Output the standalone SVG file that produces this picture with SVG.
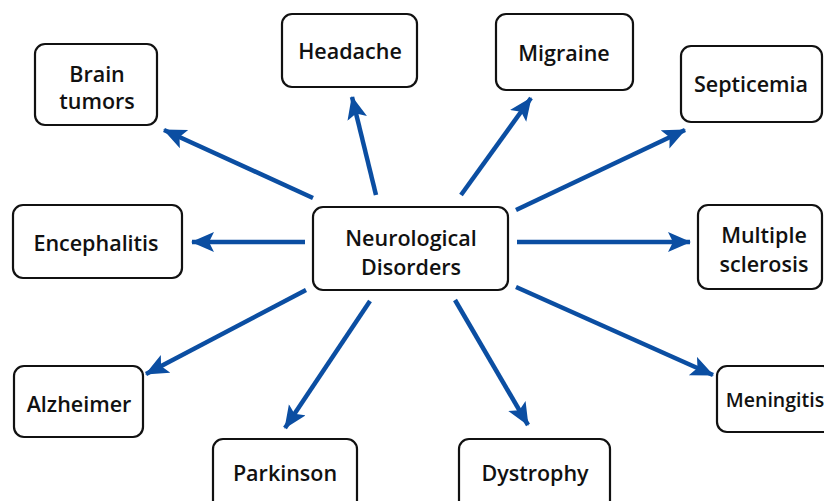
<svg xmlns="http://www.w3.org/2000/svg" width="824" height="501" viewBox="0 0 824 501">
<style>
.box{fill:#fff;stroke:#111;stroke-width:2.2}
.t{font-family:"Open Sans","Noto Sans",sans-serif;font-size:21.5px;font-weight:600;fill:#111;text-anchor:middle;dominant-baseline:central}
.c{stroke:#0b4ea2;stroke-width:4.5;fill:none;marker-end:url(#ah)}
</style>
<defs>
<marker id="ah" markerUnits="userSpaceOnUse" markerWidth="26" markerHeight="22" refX="22" refY="10" orient="auto">
<path d="M0,0 L23,10 L0,20 L5,10 Z" fill="#0b4ea2"/>
</marker>
</defs>
<rect width="824" height="501" fill="#fff"/>
<g id="connectors">
<line class="c" x1="313" y1="198" x2="164" y2="130"/>
<line class="c" x1="376" y1="195" x2="352" y2="97"/>
<line class="c" x1="461" y1="195" x2="531" y2="98"/>
<line class="c" x1="516" y1="210" x2="685" y2="130"/>
<line class="c" x1="517" y1="242" x2="690" y2="242"/>
<line class="c" x1="305" y1="242" x2="192" y2="242"/>
<line class="c" x1="306" y1="290" x2="146" y2="374"/>
<line class="c" x1="370" y1="301" x2="285" y2="428"/>
<line class="c" x1="455" y1="300" x2="528" y2="425"/>
<line class="c" x1="516" y1="287" x2="713" y2="375"/>
</g>
<g id="center"><rect class="box" x="313" y="207" width="195" height="83" rx="10"/><text class="t" x="411" y="237">Neurological</text><text class="t" x="411" y="266">Disorders</text></g>
<g id="brain"><rect class="box" x="35" y="44" width="122" height="81" rx="10"/><text class="t" x="97" y="73">Brain</text><text class="t" x="97" y="100">tumors</text></g>
<g id="headache"><rect class="box" x="282" y="14" width="135" height="73" rx="10"/><text class="t" x="350" y="50">Headache</text></g>
<g id="migraine"><rect class="box" x="496" y="14" width="137" height="76" rx="10"/><text class="t" x="564" y="52">Migraine</text></g>
<g id="septicemia"><rect class="box" x="681" y="46" width="141" height="76" rx="10"/><text class="t" x="751" y="83">Septicemia</text></g>
<g id="encephalitis"><rect class="box" x="13" y="205" width="169" height="73" rx="10"/><text class="t" x="96" y="242">Encephalitis</text></g>
<g id="sclerosis"><rect class="box" x="698" y="205" width="124" height="84" rx="10"/><text class="t" x="764" y="234">Multiple</text><text class="t" x="764" y="263">sclerosis</text></g>
<g id="alzheimer"><rect class="box" x="14" y="366" width="129" height="71" rx="10"/><text class="t" x="79" y="403">Alzheimer</text></g>
<g id="meningitis"><rect class="box" x="717" y="366" width="116" height="66" rx="10"/><text class="t" x="775" y="399" style="font-size:19.5px">Meningitis</text></g>
<g id="parkinson"><rect class="box" x="213" y="439" width="144" height="75" rx="10"/><text class="t" x="285" y="472">Parkinson</text></g>
<g id="dystrophy"><rect class="box" x="459" y="439" width="151" height="75" rx="10"/><text class="t" x="535" y="472">Dystrophy</text></g>
</svg>
